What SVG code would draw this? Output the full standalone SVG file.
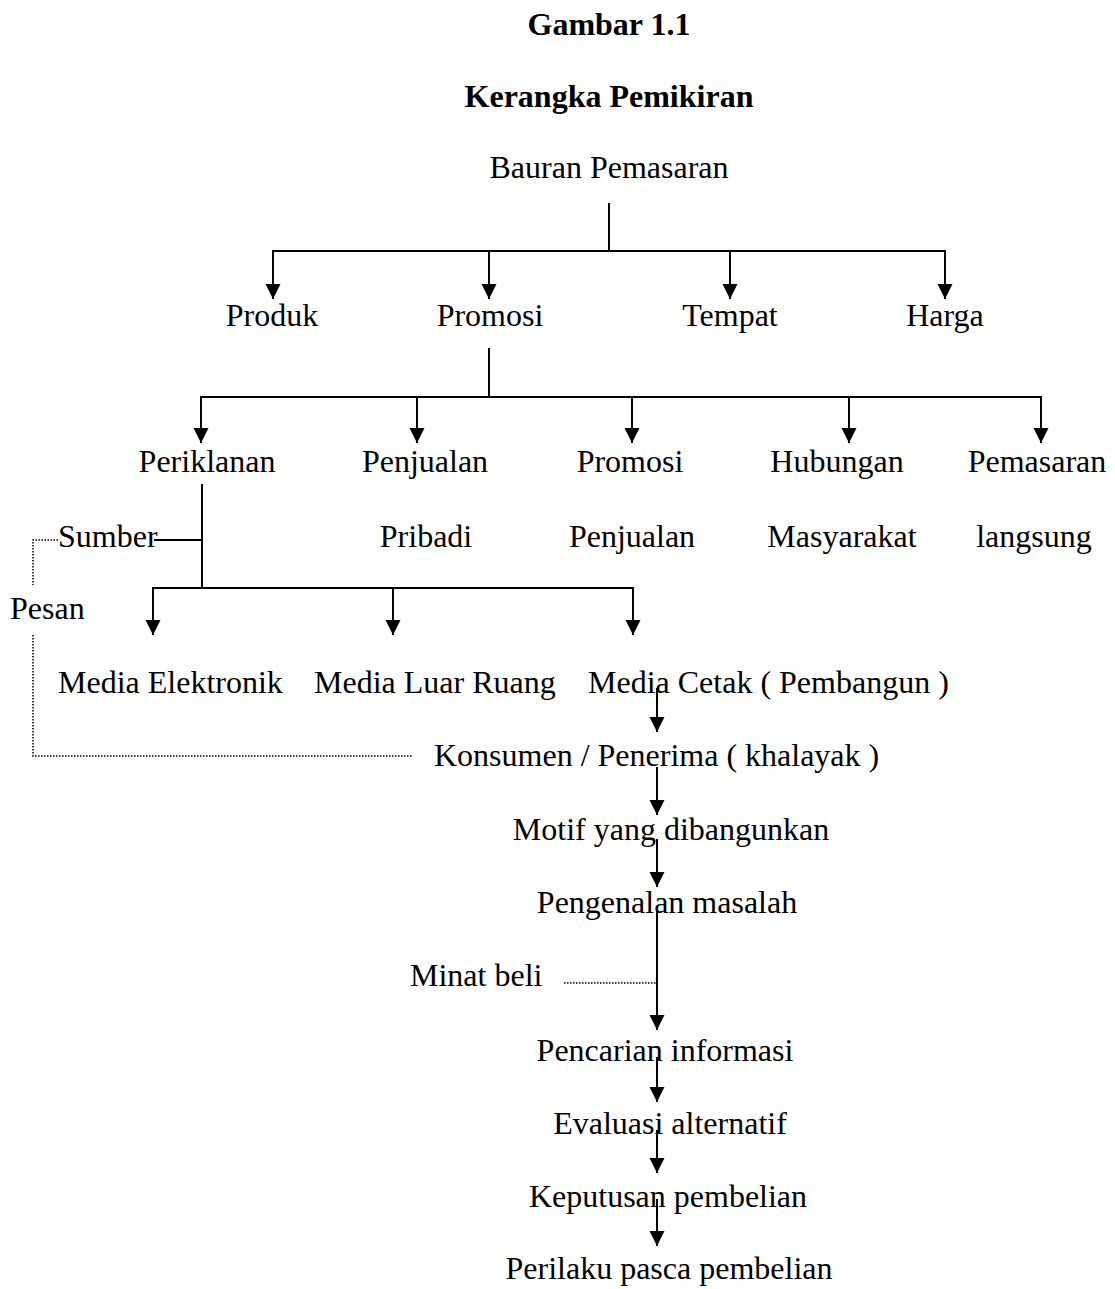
<svg xmlns="http://www.w3.org/2000/svg" width="1115" height="1289" viewBox="0 0 1115 1289">
<style>
text{font-family:"Liberation Serif","Times New Roman",serif;font-size:32px;fill:#000}
.t{font-weight:bold;text-anchor:middle}
.c{text-anchor:middle}
.ln{stroke:#000;stroke-width:2;fill:none}
.dot{stroke:#000;stroke-width:1.5;fill:none;stroke-dasharray:1.5 1.5}
</style>
<defs>
<marker id="ah" markerUnits="userSpaceOnUse" markerWidth="16" markerHeight="16" refX="15" refY="7.5" orient="auto">
<path d="M0,0 L15,7.5 L0,15 z" fill="#000"/>
</marker>
</defs>
<rect width="1115" height="1289" fill="#fff"/>
<g id="title">
<text class="t" x="609" y="35">Gambar 1.1</text>
<text class="t" x="609" y="107">Kerangka Pemikiran</text>
</g>
<g id="n-bauran"><text class="c" x="609" y="178">Bauran Pemasaran</text></g>
<g id="n-produk"><text class="c" x="272" y="326">Produk</text></g>
<g id="n-promosi"><text class="c" x="490" y="326">Promosi</text></g>
<g id="n-tempat"><text class="c" x="730" y="326">Tempat</text></g>
<g id="n-harga"><text class="c" x="945" y="326">Harga</text></g>
<g id="n-periklanan"><text class="c" x="207" y="472">Periklanan</text></g>
<g id="n-penjualan-pribadi"><text class="c" x="425" y="472">Penjualan</text><text class="c" x="426" y="547">Pribadi</text></g>
<g id="n-promosi-penjualan"><text class="c" x="630" y="472">Promosi</text><text class="c" x="632" y="547">Penjualan</text></g>
<g id="n-hubungan"><text class="c" x="837" y="472">Hubungan</text><text class="c" x="842" y="547">Masyarakat</text></g>
<g id="n-pemasaran"><text class="c" x="1037" y="472">Pemasaran</text><text class="c" x="1034" y="547">langsung</text></g>
<g id="n-sumber"><text x="58" y="547">Sumber</text></g>
<g id="n-pesan"><text x="10" y="619">Pesan</text></g>
<g id="n-media-elektronik"><text x="58" y="693">Media Elektronik</text></g>
<g id="n-media-luar"><text x="314" y="693">Media Luar Ruang</text></g>
<g id="n-media-cetak"><text x="588" y="693">Media Cetak ( Pembangun )</text></g>
<g id="n-konsumen"><text x="434" y="766">Konsumen / Penerima ( khalayak )</text></g>
<g id="n-motif"><text class="c" x="671" y="840">Motif yang dibangunkan</text></g>
<g id="n-pengenalan"><text class="c" x="667" y="913">Pengenalan masalah</text></g>
<g id="n-minat"><text x="410" y="986">Minat beli</text></g>
<g id="n-pencarian"><text class="c" x="665" y="1061">Pencarian informasi</text></g>
<g id="n-evaluasi"><text class="c" x="670" y="1134">Evaluasi alternatif</text></g>
<g id="n-keputusan"><text class="c" x="668" y="1207">Keputusan pembelian</text></g>
<g id="n-perilaku"><text class="c" x="669" y="1279">Perilaku pasca pembelian</text></g>
<g id="connectors">
<path class="ln" d="M609,203 V251 M273,251 H945"/>
<line class="ln" x1="273" y1="250" x2="273" y2="299" marker-end="url(#ah)"/>
<line class="ln" x1="489" y1="250" x2="489" y2="299" marker-end="url(#ah)"/>
<line class="ln" x1="730" y1="250" x2="730" y2="299" marker-end="url(#ah)"/>
<line class="ln" x1="945" y1="250" x2="945" y2="299" marker-end="url(#ah)"/>
<path class="ln" d="M489,348 V397 M201,397 H1041"/>
<line class="ln" x1="201" y1="396" x2="201" y2="443" marker-end="url(#ah)"/>
<line class="ln" x1="417" y1="396" x2="417" y2="443" marker-end="url(#ah)"/>
<line class="ln" x1="632" y1="396" x2="632" y2="443" marker-end="url(#ah)"/>
<line class="ln" x1="849" y1="396" x2="849" y2="443" marker-end="url(#ah)"/>
<line class="ln" x1="1041" y1="396" x2="1041" y2="443" marker-end="url(#ah)"/>
<path class="ln" d="M202,484 V588 M154,540 H202 M153,588 H633"/>
<line class="ln" x1="153" y1="587" x2="153" y2="635" marker-end="url(#ah)"/>
<line class="ln" x1="393" y1="587" x2="393" y2="635" marker-end="url(#ah)"/>
<line class="ln" x1="633" y1="587" x2="633" y2="635" marker-end="url(#ah)"/>
<path class="dot" d="M58,540 H33 V585 M33,635 V756 H413"/>
<path class="dot" d="M564,983 H657"/>
<line class="ln" x1="657" y1="688" x2="657" y2="732" marker-end="url(#ah)"/>
<line class="ln" x1="657" y1="767" x2="657" y2="815" marker-end="url(#ah)"/>
<line class="ln" x1="657" y1="839" x2="657" y2="887" marker-end="url(#ah)"/>
<line class="ln" x1="657" y1="910" x2="657" y2="1030" marker-end="url(#ah)"/>
<line class="ln" x1="657" y1="1057" x2="657" y2="1102" marker-end="url(#ah)"/>
<line class="ln" x1="657" y1="1130" x2="657" y2="1173" marker-end="url(#ah)"/>
<line class="ln" x1="657" y1="1199" x2="657" y2="1246" marker-end="url(#ah)"/>
</g>
</svg>
